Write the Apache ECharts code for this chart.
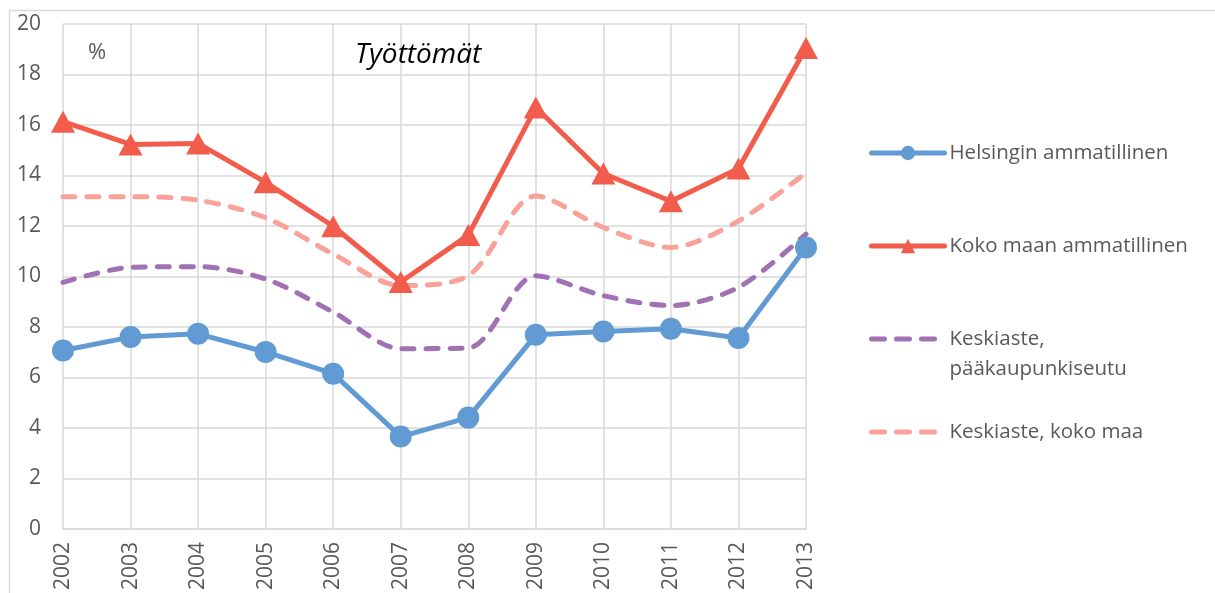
<!DOCTYPE html>
<html>
<head>
<meta charset="utf-8">
<script src="https://cdn.jsdelivr.net/npm/echarts@6/dist/echarts.min.js"></script>
<style>
html,body{margin:0;padding:0;background:#fff;}
#c{width:1215px;height:593px;}
</style>
</head>
<body>
<div id="c"></div>
<script>
const years = ['2002','2003','2004','2005','2006','2007','2008','2009','2010','2011','2012','2013'];
const helsinginAmmatillinen = [7.07, 7.60, 7.73, 7.01, 6.15, 3.66, 4.41, 7.69, 7.82, 7.93, 7.56, 11.15];
const kokoMaanAmmatillinen = [16.13, 15.23, 15.27, 13.73, 11.99, 9.78, 11.64, 16.69, 14.08, 12.98, 14.28, 19.05];
const keskiastePks = [9.77, 10.36, 10.39, 9.90, 8.59, 7.14, 7.17, 10.03, 9.24, 8.85, 9.57, 11.68];
const keskiasteKokoMaa = [13.16, 13.16, 13.02, 12.33, 10.89, 9.64, 10.03, 13.19, 11.94, 11.15, 12.20, 14.11];
const seriesNames = ['Helsingin ammatillinen', 'Koko maan ammatillinen', 'Keskiaste, pääkaupunkiseutu', 'Keskiaste, koko maa'];
const yTicks = {min: 0, max: 20, interval: 2};

const FONT = '"Open Sans"';
const TXT = '#595959';
const GRID = '#d9d9d9';
const C_BLUE = '#629ad3';
const C_RED = '#f15c4c';
const C_PURPLE = '#a071b3';
const C_PINK = '#f8a29a';

const chart = echarts.init(document.getElementById('c'), null, {renderer: 'canvas'});

const legendText = {fontFamily: FONT, fontSize: 20.5, color: TXT, lineHeight: 30};

function legendFor(name, top, extra) {
  return Object.assign({
    data: [name],
    orient: 'vertical',
    left: 869,
    top: top,
    padding: 0,
    itemWidth: 73,
    itemHeight: 18,
    selectedMode: false,
    textStyle: legendText
  }, extra || {});
}
const dashedLegend = {
  itemStyle: {opacity: 0},
  lineStyle: {type: [13, 12], cap: 'round', width: 5}
};

chart.setOption({
  animation: false,
  backgroundColor: '#fff',
  graphic: [{
    type: 'rect', silent: true,
    shape: {x: 9.5, y: 10.5, width: 1400, height: 800},
    style: {fill: 'none', stroke: GRID, lineWidth: 1.5}
  }],
  title: [
    {text: 'Työttömät', left: 355, top: 41, padding: 0,
     textStyle: {fontFamily: FONT, fontSize: 28, fontStyle: 'italic', fontWeight: 'normal', color: '#000'}},
    {text: '%', left: 88, top: 42, padding: 0,
     textStyle: {fontFamily: FONT, fontSize: 22, fontWeight: 'normal', color: TXT}}
  ],
  legend: [
    legendFor(seriesNames[0], 138, {lineStyle: {width: 5, cap: 'round'}}),
    legendFor(seriesNames[1], 231, {lineStyle: {width: 5, cap: 'round'}}),
    legendFor(seriesNames[2], 294, Object.assign({
      formatter: function(){ return '\nKeskiaste,\npääkaupunkiseutu'; }
    }, dashedLegend)),
    legendFor(seriesNames[3], 417, dashedLegend)
  ],
  grid: {left: 63, right: 409, top: 24, bottom: 62, containLabel: false},
  xAxis: {
    type: 'category',
    data: years,
    boundaryGap: false,
    axisLine: {show: true, lineStyle: {color: GRID, width: 1.5}},
    axisTick: {show: false},
    splitLine: {show: true, lineStyle: {color: GRID, width: 1.5}},
    axisLabel: {rotate: 90, margin: 13, fontFamily: FONT, fontSize: 21, color: TXT}
  },
  yAxis: {
    type: 'value',
    min: yTicks.min, max: yTicks.max, interval: yTicks.interval,
    axisLine: {show: false},
    axisTick: {show: false},
    splitLine: {show: true, lineStyle: {color: GRID, width: 1.5}},
    axisLabel: {margin: 22, fontFamily: FONT, fontSize: 21, color: TXT}
  },
  series: [
    {
      name: seriesNames[2], type: 'line', data: keskiastePks, smooth: 0.3,
      symbol: 'none', z: 2,
      lineStyle: {color: C_PURPLE, width: 5, type: [12, 12], cap: 'round'},
      itemStyle: {color: C_PURPLE}
    },
    {
      name: seriesNames[3], type: 'line', data: keskiasteKokoMaa, smooth: 0.3,
      symbol: 'none', z: 2,
      lineStyle: {color: C_PINK, width: 5, type: [12, 12], cap: 'round'},
      itemStyle: {color: C_PINK}
    },
    {
      name: seriesNames[0], type: 'line', data: helsinginAmmatillinen,
      symbol: 'circle', symbolSize: 22, z: 3,
      lineStyle: {color: C_BLUE, width: 5},
      itemStyle: {color: C_BLUE}
    },
    {
      name: seriesNames[1], type: 'line', data: kokoMaanAmmatillinen,
      symbol: 'triangle', symbolSize: [24, 22], z: 4,
      lineStyle: {color: C_RED, width: 5},
      itemStyle: {color: C_RED}
    }
  ]
});
</script>
</body>
</html>
